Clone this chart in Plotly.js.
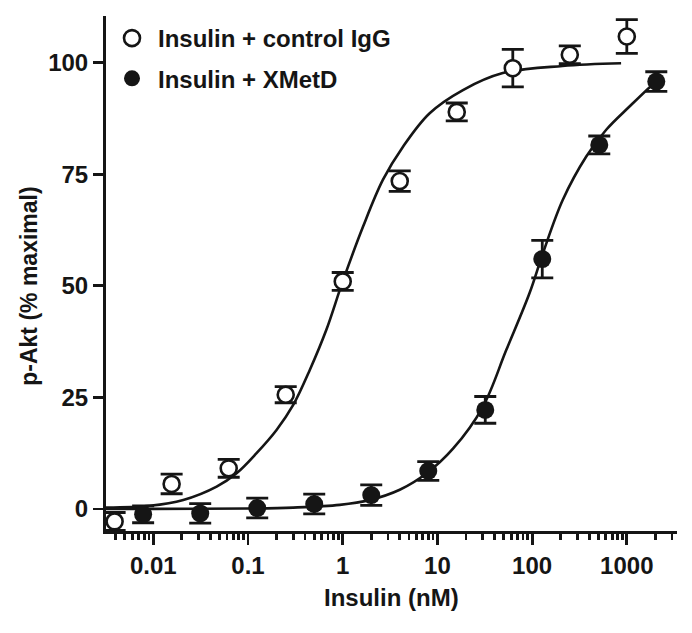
<!DOCTYPE html>
<html><head><meta charset="utf-8">
<script src="https://cdn.plot.ly/plotly-3.0.1.min.js"></script>
<style>html,body{margin:0;padding:0;background:#fff}</style>
</head><body>
<div id="chart" style="width:692px;height:633px"></div>
<script>
// Measured points (mean ± error)
const insulinControl = [0.0039, 0.0156, 0.0625, 0.25, 1, 4, 16, 62.5, 250, 1000];
const pAktControl    = [-2.8, 5.6, 9.1, 25.6, 51.0, 73.5, 89.0, 98.8, 101.8, 105.9];
const errControl     = [2.0, 2.2, 2.0, 1.8, 2.0, 2.3, 2.0, 4.2, 2.0, 3.8];

const insulinXMetD = [0.0078, 0.03125, 0.125, 0.5, 2, 8, 32, 128, 512, 2048];
const pAktXMetD    = [-1.2, -1.0, 0.2, 1.1, 3.1, 8.5, 22.2, 56.0, 81.6, 95.8];
const errXMetD     = [1.9, 2.2, 2.2, 2.2, 2.3, 2.1, 3.0, 4.2, 2.0, 2.2];

// Fitted curves
const fitControlX = [0.00316, 0.0092, 0.0207, 0.0466, 0.0757, 0.123, 0.2, 0.3, 0.45, 0.67, 1.0, 1.64, 2.66, 4.33, 8.28, 18.6, 49, 209, 870];
const fitControlY = [0.3, 0.7, 2.0, 5.0, 8.0, 12.5, 17.7, 23.3, 31.2, 40.1, 51.0, 63.3, 73.8, 81.2, 88.7, 93.9, 97.7, 99.3, 99.9];

const fitXMetDX = [0.00316, 0.01, 0.1, 0.3, 0.93, 1.93, 4, 7.7, 14.6, 30.2, 53.3, 94, 130, 211, 373, 606, 1067, 1870, 2048];
const fitXMetDY = [0.0, 0.0, 0.1, 0.3, 0.9, 2.0, 4.3, 8.0, 13.5, 22.9, 35.6, 48.4, 57.3, 69.3, 79.0, 85.0, 90.2, 95.1, 95.7];

const xTickVals = [0.01, 0.1, 1, 10, 100, 1000];
const xTickText = ['0.01', '0.1', '1', '10', '100', '1000'];
const yTickVals = [0, 25, 50, 75, 100];
const yTickText = ['0', '25', '50', '75', '100'];

const labelControl = 'Insulin + control IgG';
const labelXMetD = 'Insulin + XMetD';
const xTitle = 'Insulin (nM)';
const yTitle = 'p-Akt (% maximal)';

const ink = '#151515';
const FONT = 'Liberation Sans, Arial, Helvetica, sans-serif';

const traces = [
  {x: fitControlX, y: fitControlY, mode: 'lines', line: {color: ink, width: 2.6, shape: 'spline', smoothing: 1}, showlegend: false, hoverinfo: 'skip'},
  {x: fitXMetDX, y: fitXMetDY, mode: 'lines', line: {color: ink, width: 2.6, shape: 'spline', smoothing: 1}, showlegend: false, hoverinfo: 'skip'},
  {x: insulinControl, y: pAktControl, name: labelControl, legendgroup: 'a', mode: 'markers',
   marker: {symbol: 'circle', size: 16, color: '#ffffff', line: {color: ink, width: 2.6}},
   error_y: {type: 'data', array: errControl, visible: true, color: ink, thickness: 2.8, width: 11}},
  {x: insulinXMetD, y: pAktXMetD, name: labelXMetD, legendgroup: 'b', mode: 'markers',
   marker: {symbol: 'circle', size: 18, color: ink, line: {color: ink, width: 0}},
   error_y: {type: 'data', array: errXMetD, visible: true, color: ink, thickness: 2.8, width: 11}}
];

const layout = {
  width: 692, height: 633,
  margin: {l: 106, r: 15, t: 16, b: 102},
  paper_bgcolor: '#fff', plot_bgcolor: '#fff',
  font: {family: FONT, color: ink},
  showlegend: true,
  legend: {x: 0, y: 1.0, xanchor: 'left', yanchor: 'top', bgcolor: 'rgba(0,0,0,0)',
           font: {family: FONT, size: 24, weight: 'bold', color: ink},
           itemwidth: 42, traceorder: 'grouped', tracegroupgap: 6},
  xaxis: {type: 'log', range: [-2.5, 3.53], showgrid: false, zeroline: false,
          showline: true, linecolor: ink, linewidth: 3,
          tickmode: 'array', tickvals: xTickVals, ticktext: xTickText,
          ticks: 'outside', ticklen: 11, tickwidth: 2.8, tickcolor: ink,
          tickfont: {family: FONT, size: 24, weight: 'bold', color: ink},
          minor: {ticks: 'outside', ticklen: 6, tickwidth: 2.8, tickcolor: ink, dtick: 'D1', showgrid: false}},
  yaxis: {range: [-4.95, 110.5], showgrid: false, zeroline: false,
          showline: true, linecolor: ink, linewidth: 3,
          tickmode: 'array', tickvals: yTickVals, ticktext: yTickText,
          ticks: 'outside', ticklen: 10, tickwidth: 2.8, tickcolor: ink,
          tickfont: {family: FONT, size: 24, weight: 'bold', color: ink}},
  annotations: [
    {text: xTitle, xref: 'paper', yref: 'paper', x: 0.5, y: -0.13, xanchor: 'center', yanchor: 'middle', showarrow: false,
     font: {family: FONT, size: 24, weight: 'bold', color: ink}},
    {text: yTitle, xref: 'paper', yref: 'paper', x: -0.135, y: 0.476, xanchor: 'center', yanchor: 'middle', showarrow: false, textangle: -90,
     font: {family: FONT, size: 23, weight: 'bold', color: ink}}
  ]
};

Plotly.newPlot('chart', traces, layout, {displayModeBar: false, staticPlot: true});
</script>
</body></html>
